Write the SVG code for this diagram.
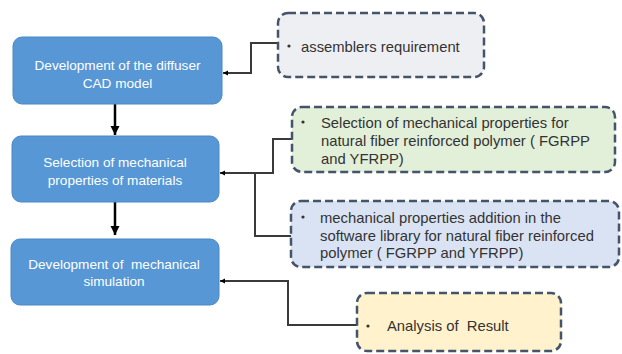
<svg xmlns="http://www.w3.org/2000/svg" width="622" height="354" viewBox="0 0 622 354">
<style>
.step{fill:#5797d5;stroke:#4b88c4;stroke-width:1}
.note{stroke:#44546a;stroke-width:2.5;stroke-dasharray:8 4}
.wt{font-family:"Liberation Sans",Arial,sans-serif;font-size:13.6px;fill:#ffffff;text-anchor:middle}
.dt{font-family:"Liberation Sans",Arial,sans-serif;font-size:14.8px;fill:#333333;white-space:pre}
.conn{fill:none;stroke:#3a3a3a;stroke-width:2}
.flow{fill:none;stroke:#000;stroke-width:2.5}
</style>
<defs>
<marker id="sm" markerWidth="6" markerHeight="6" refX="5" refY="3" orient="auto" markerUnits="userSpaceOnUse">
<path d="M0,0.5 L5,3 L0,5.5 Z" fill="#000"/>
</marker>
<marker id="big" markerWidth="10" markerHeight="10" refX="9" refY="5" orient="auto" markerUnits="userSpaceOnUse">
<path d="M0,0.5 L9,5 L0,9.5 Z" fill="#000"/>
</marker>
</defs>
<rect width="622" height="354" fill="#ffffff"/>
<g id="connectors">
<path class="flow" d="M115,104 V135" marker-end="url(#big)"/>
<path class="flow" d="M115,202 V235" marker-end="url(#big)"/>
<path class="conn" d="M278,43 H251 V73 H223" marker-end="url(#sm)"/>
<path class="conn" d="M292,139 H273 V173 H220" marker-end="url(#sm)"/>
<path class="conn" d="M291,236 H255 V173"/>
<path class="conn" d="M357,325 H288 V281 H220" marker-end="url(#sm)"/>
</g>
<g id="step1">
<rect class="step" x="13" y="37" width="209" height="67" rx="9"/>
<text class="wt" x="117.5" y="70">Development of the diffuser</text>
<text class="wt" x="117.5" y="88">CAD model</text>
</g>
<g id="step2">
<rect class="step" x="12" y="136" width="207" height="66" rx="9"/>
<text class="wt" x="115" y="167">Selection of mechanical</text>
<text class="wt" x="115" y="185">properties of materials</text>
</g>
<g id="step3">
<rect class="step" x="11" y="239" width="208" height="66" rx="9"/>
<text class="wt" x="114" y="269" xml:space="preserve">Development of  mechanical</text>
<text class="wt" x="114" y="286">simulation</text>
</g>
<g id="note1">
<rect class="note" x="278" y="13" width="206" height="64" rx="10" fill="#eeeff2"/>
<circle cx="289" cy="46" r="1.6" fill="#333"/>
<text class="dt" x="301" y="52">assemblers requirement</text>
</g>
<g id="note2">
<rect class="note" x="292" y="107" width="323" height="65" rx="10" fill="#e2efd9"/>
<circle cx="303" cy="122" r="1.6" fill="#333"/>
<text class="dt" x="321" y="128">Selection of mechanical properties for</text>
<text class="dt" x="321" y="146">natural fiber reinforced polymer ( FGRPP</text>
<text class="dt" x="321" y="164">and YFRPP)</text>
</g>
<g id="note3">
<rect class="note" x="291" y="201" width="328" height="66" rx="10" fill="#dae3f3"/>
<circle cx="303" cy="217" r="1.6" fill="#333"/>
<text class="dt" x="320" y="223">mechanical properties addition in the</text>
<text class="dt" x="320" y="241">software library for natural fiber reinforced</text>
<text class="dt" x="320" y="258">polymer ( FGRPP and YFRPP)</text>
</g>
<g id="note4">
<rect class="note" x="357" y="293" width="204" height="58" rx="10" fill="#fff2cc"/>
<circle cx="368" cy="326" r="1.6" fill="#333"/>
<text class="dt" x="387" y="331">Analysis of  Result</text>
</g>
</svg>
